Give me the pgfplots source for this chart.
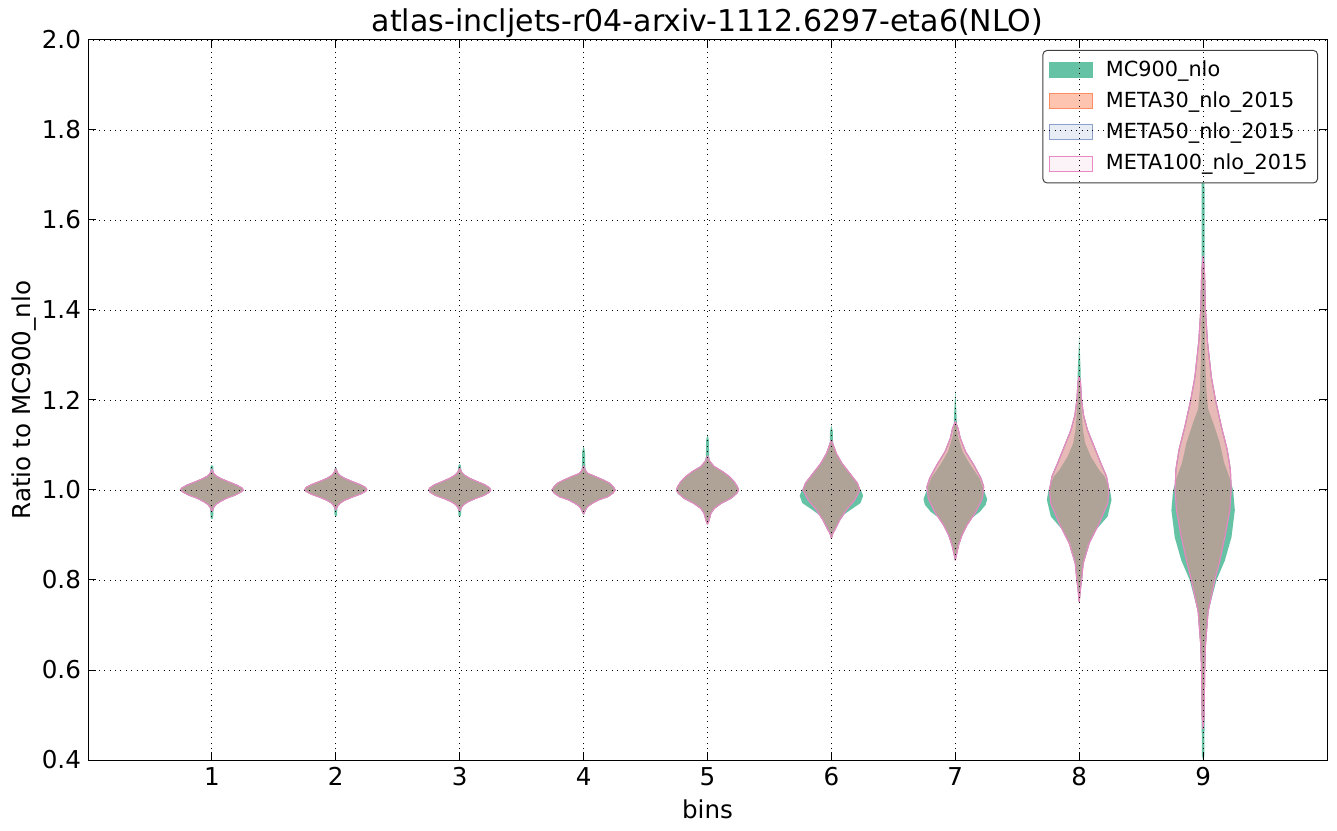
\documentclass[border=0pt]{standalone}
\usepackage{fontspec}
\setmainfont{DejaVu Sans}
\usepackage{pgfplots}
\usepackage{pgfplotstable}
\pgfplotsset{compat=1.18}
\usepgfplotslibrary{fillbetween}

\definecolor{cG}{RGB}{102,194,165}
\definecolor{cO}{RGB}{252,141,98}
\definecolor{cB}{RGB}{141,160,203}
\definecolor{cP}{RGB}{231,138,195}

% ---- violin profiles: y, half-width (in bin units) ----
\pgfplotstableread{
y w
0.935 0
0.938 0.010
0.950 0.012
0.958 0.014
0.962 0.018
0.968 0.034
0.974 0.067
0.982 0.122
0.989 0.192
0.996 0.240
1.000 0.255
1.004 0.243
1.011 0.198
1.018 0.133
1.025 0.073
1.031 0.034
1.036 0.018
1.042 0.013
1.052 0.011
1.056 0
}\gA
\pgfplotstableread{
y w
0.952 0
0.956 0.006
0.962 0.015
0.968 0.032
0.974 0.065
0.982 0.120
0.989 0.190
0.996 0.237
1.000 0.253
1.004 0.245
1.011 0.200
1.018 0.135
1.025 0.075
1.031 0.035
1.036 0.016
1.042 0.006
1.046 0
}\mA
\pgfplotstableread{
y w
0.941 0
0.944 0.010
0.956 0.012
0.961 0.014
0.965 0.018
0.971 0.036
0.977 0.072
0.984 0.132
0.991 0.202
0.997 0.242
1.001 0.252
1.006 0.238
1.012 0.195
1.019 0.130
1.026 0.070
1.032 0.034
1.038 0.016
1.043 0.012
1.047 0.011
1.050 0
}\gB
\pgfplotstableread{
y w
0.956 0
0.960 0.007
0.965 0.016
0.971 0.035
0.977 0.070
0.984 0.130
0.991 0.200
0.997 0.240
1.001 0.250
1.006 0.238
1.012 0.195
1.019 0.130
1.026 0.070
1.032 0.034
1.038 0.015
1.043 0.006
1.047 0
}\mB
\pgfplotstableread{
y w
0.940 0
0.943 0.010
0.953 0.012
0.958 0.014
0.962 0.019
0.968 0.038
0.974 0.074
0.981 0.132
0.988 0.200
0.995 0.242
1.000 0.252
1.005 0.240
1.012 0.200
1.019 0.138
1.026 0.080
1.033 0.038
1.039 0.018
1.045 0.013
1.054 0.011
1.058 0
}\gC
\pgfplotstableread{
y w
0.953 0
0.957 0.007
0.962 0.016
0.968 0.034
0.974 0.068
0.981 0.125
0.988 0.195
0.995 0.238
1.000 0.250
1.005 0.240
1.012 0.200
1.019 0.138
1.026 0.080
1.033 0.038
1.039 0.016
1.045 0.006
1.050 0
}\mC
\pgfplotstableread{
y w
0.945 0
0.948 0.010
0.951 0.012
0.956 0.018
0.963 0.034
0.970 0.069
0.978 0.124
0.985 0.197
0.993 0.240
1.000 0.256
1.007 0.240
1.015 0.210
1.022 0.160
1.030 0.094
1.037 0.034
1.044 0.016
1.060 0.013
1.085 0.011
1.098 0
}\gD
\pgfplotstableread{
y w
0.947 0
0.951 0.008
0.956 0.016
0.963 0.032
0.970 0.067
0.978 0.121
0.985 0.194
0.993 0.237
1.000 0.255
1.007 0.240
1.015 0.210
1.022 0.160
1.030 0.094
1.037 0.032
1.044 0.013
1.050 0.005
1.054 0
}\mD
\pgfplotstableread{
y w
0.924 0
0.933 0.014
0.948 0.028
0.959 0.057
0.970 0.114
0.9815 0.196
0.993 0.243
1.000 0.252
1.007 0.242
1.0185 0.213
1.030 0.172
1.041 0.118
1.052 0.052
1.063 0.020
1.075 0.013
1.110 0.011
1.124 0
}\gE
\pgfplotstableread{
y w
0.924 0
0.933 0.013
0.948 0.027
0.959 0.054
0.970 0.108
0.9815 0.188
0.993 0.237
1.000 0.250
1.007 0.242
1.0185 0.215
1.030 0.175
1.041 0.121
1.052 0.054
1.063 0.020
1.070 0.008
1.076 0
}\mE
\pgfplotstableread{
y w
0.893 0
0.904 0.012
0.911 0.027
0.933 0.062
0.941 0.080
0.956 0.155
0.971 0.235
0.987 0.256
1.000 0.238
1.015 0.205
1.037 0.143
1.059 0.080
1.081 0.036
1.100 0.014
1.130 0.011
1.144 0
}\gF
\pgfplotstableread{
y w
0.893 0
0.904 0.012
0.911 0.027
0.933 0.067
0.956 0.121
0.978 0.188
1.000 0.229
1.015 0.210
1.037 0.148
1.059 0.086
1.081 0.040
1.100 0.015
1.111 0
}\mF
\pgfplotstableread{
y w
0.844 0
0.860 0.012
0.878 0.027
0.900 0.054
0.922 0.090
0.937 0.130
0.952 0.200
0.967 0.245
0.978 0.256
0.9815 0.255
0.996 0.235
1.011 0.215
1.026 0.195
1.056 0.121
1.085 0.059
1.115 0.025
1.130 0.014
1.160 0.011
1.222 0
}\gG
\pgfplotstableread{
y w
0.844 0
0.860 0.012
0.878 0.027
0.900 0.054
0.922 0.094
0.952 0.167
0.9815 0.218
1.007 0.229
1.026 0.207
1.056 0.148
1.085 0.083
1.115 0.040
1.137 0.022
1.152 0
}\mG
\pgfplotstableread{
y w
0.760 0
0.800 0.019
0.837 0.032
0.880 0.070
0.911 0.134
0.941 0.229
0.978 0.261
1.000 0.248
1.030 0.205
1.044 0.161
1.074 0.094
1.104 0.048
1.133 0.030
1.170 0.020
1.200 0.014
1.260 0.012
1.344 0
}\gH
\pgfplotstableread{
y w
0.752 0
0.785 0.012
0.800 0.019
0.837 0.032
0.8815 0.080
0.926 0.161
0.9704 0.229
1.000 0.240
1.030 0.220
1.059 0.175
1.096 0.121
1.133 0.067
1.166 0.035
1.200 0.019
1.240 0.010
1.252 0
}\mH
\pgfplotstableread{
y w
0.400 0
0.410 0.010
0.600 0.014
0.655 0.020
0.730 0.042
0.800 0.108
0.843 0.175
0.895 0.229
0.955 0.256
1.000 0.242
1.030 0.210
1.060 0.170
1.105 0.134
1.150 0.080
1.180 0.040
1.225 0.025
1.300 0.016
1.400 0.012
1.720 0.011
1.745 0
}\gI
\pgfplotstableread{
y w
0.470 0
0.500 0.008
0.600 0.013
0.655 0.019
0.730 0.040
0.800 0.094
0.843 0.134
0.895 0.175
0.955 0.215
1.000 0.226
1.045 0.220
1.090 0.194
1.140 0.148
1.200 0.100
1.250 0.067
1.330 0.035
1.400 0.019
1.480 0.012
1.520 0
}\mI

% #1 id, #2 centre, #3 table, #4 fill colour, #5 fill opacity, #6 edge colour
\newcommand{\violin}[6]{%
  \addplot[forget plot, draw=none, name path=L#1] table[x expr=#2-\thisrow{w}, y=y] {#3};
  \addplot[forget plot, draw=none, name path=R#1] table[x expr=#2+\thisrow{w}, y=y] {#3};
  \addplot[forget plot, fill=#4, fill opacity=#5, draw=none] fill between[of=L#1 and R#1];
  \addplot[forget plot, draw=#6, line width=0.5pt] table[x expr=#2-\thisrow{w}, y=y] {#3};
  \addplot[forget plot, draw=#6, line width=0.5pt] table[x expr=#2+\thisrow{w}, y=y] {#3};
}
\newcommand{\bin}[4]{% #1 id, #2 centre, #3 green table, #4 meta table
  \violin{g#1}{#2}{#3}{cG}{1}{none}
  \violin{o#1}{#2}{#4}{cO}{0.5}{cO}
  \violin{b#1}{#2}{#4}{cB}{0.2}{cB}
  \violin{p#1}{#2}{#4}{cP}{0.1}{cP}
}

\begin{document}
\begin{tikzpicture}
\begin{axis}[
  scale only axis,
  width=619.5pt, height=360pt,
  xmin=0, xmax=10, ymin=0.4, ymax=2.0,
  xtick={1,2,3,4,5,6,7,8,9},
  ytick={0.4,0.6,0.8,1.0,1.2,1.4,1.6,1.8,2.0},
  y tick label style={/pgf/number format/.cd, fixed, fixed zerofill, precision=1, /tikz/.cd},
  /pgf/number format/assume math mode=true,
  tick label style={font=\fontsize{12.3}{14}\selectfont},
  label style={font=\fontsize{12.3}{14}\selectfont},
  title style={font=\fontsize{15}{17}\selectfont, at={(0.5,1)}, anchor=base, yshift=-2pt},
  ylabel shift=-4pt,
  grid=major,
  grid style={black, line width=0.45pt, dash pattern=on 0.5pt off 2.2pt},
  axis on top,
  major tick length=4pt,
  tick style={black, line width=0.5pt},
  axis line style={black, line width=0.5pt},
  title={atlas-incljets-r04-arxiv-1112.6297-eta6(NLO)},
  xlabel={bins},
  ylabel={Ratio to MC900\_nlo},
  legend cell align=left,
  legend image code/.code={\draw[#1, sharp corners] (0pt,-3.75pt) rectangle (21.5pt,3.75pt); \path (26pt,0pt);},
  legend style={at={(1,1)}, anchor=north east, xshift=-4.5pt, yshift=-5pt,
    draw=black!75, line width=0.5pt, rounded corners=2pt,
    font=\fontsize{10.4}{12}\selectfont, row sep=2.2pt, inner sep=3pt},
]
\addlegendimage{fill=cG, draw=cG}
\addlegendentry{MC900\_nlo}
\addlegendimage{fill=cO, fill opacity=0.5, draw=cO}
\addlegendentry{META30\_nlo\_2015}
\addlegendimage{fill=cB, fill opacity=0.2, draw=cB}
\addlegendentry{META50\_nlo\_2015}
\addlegendimage{fill=cP, fill opacity=0.1, draw=cP}
\addlegendentry{META100\_nlo\_2015}

\bin{a}{1}{\gA}{\mA}
\bin{b}{2}{\gB}{\mB}
\bin{c}{3}{\gC}{\mC}
\bin{d}{4}{\gD}{\mD}
\bin{e}{5}{\gE}{\mE}
\bin{f}{6}{\gF}{\mF}
\bin{g}{7}{\gG}{\mG}
\bin{h}{8}{\gH}{\mH}
\bin{i}{9}{\gI}{\mI}
\end{axis}
\pgfresetboundingbox
\path[use as bounding box] ([xshift=-44pt,yshift=-35pt]current axis.south west) rectangle ([xshift=5pt,yshift=20pt]current axis.north east);
\end{tikzpicture}
\end{document}
